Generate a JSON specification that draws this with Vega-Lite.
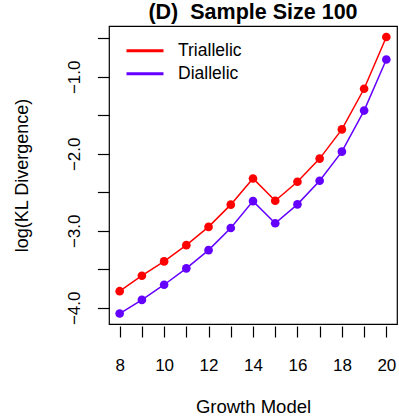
{
  "$schema": "https://vega.github.io/schema/vega-lite/v6.json",
  "width": 288,
  "height": 298,
  "autosize": {"type": "none"},
  "padding": {"left": 109, "top": 26, "right": 2, "bottom": 92},
  "background": "white",
  "config": {
    "font": "Liberation Sans",
    "view": {"stroke": "black", "strokeWidth": 1.2},
    "axis": {"grid": false, "domain": false, "tickColor": "black", "labelColor": "black", "titleColor": "black", "labelFont": "Liberation Sans", "titleFont": "Liberation Sans", "titleFontWeight": "normal", "tickWidth": 1.2}
  },
  "title": {"text": "(D)\u00a0 Sample Size 100", "fontSize": 21.5, "fontWeight": "bold", "font": "Liberation Sans", "anchor": "middle", "offset": 3, "color": "black"},
  "data": {"values": [
    {"growth": 8, "type": "Triallelic", "kl": -3.784},
    {"growth": 9, "type": "Triallelic", "kl": -3.583},
    {"growth": 10, "type": "Triallelic", "kl": -3.397},
    {"growth": 11, "type": "Triallelic", "kl": -3.186},
    {"growth": 12, "type": "Triallelic", "kl": -2.949},
    {"growth": 13, "type": "Triallelic", "kl": -2.660},
    {"growth": 14, "type": "Triallelic", "kl": -2.320},
    {"growth": 15, "type": "Triallelic", "kl": -2.609},
    {"growth": 16, "type": "Triallelic", "kl": -2.363},
    {"growth": 17, "type": "Triallelic", "kl": -2.062},
    {"growth": 18, "type": "Triallelic", "kl": -1.683},
    {"growth": 19, "type": "Triallelic", "kl": -1.155},
    {"growth": 20, "type": "Triallelic", "kl": -0.483},
    {"growth": 8, "type": "Diallelic", "kl": -4.074},
    {"growth": 9, "type": "Diallelic", "kl": -3.897},
    {"growth": 10, "type": "Diallelic", "kl": -3.700},
    {"growth": 11, "type": "Diallelic", "kl": -3.487},
    {"growth": 12, "type": "Diallelic", "kl": -3.251},
    {"growth": 13, "type": "Diallelic", "kl": -2.963},
    {"growth": 14, "type": "Diallelic", "kl": -2.614},
    {"growth": 15, "type": "Diallelic", "kl": -2.902},
    {"growth": 16, "type": "Diallelic", "kl": -2.656},
    {"growth": 17, "type": "Diallelic", "kl": -2.350},
    {"growth": 18, "type": "Diallelic", "kl": -1.972},
    {"growth": 19, "type": "Diallelic", "kl": -1.438},
    {"growth": 20, "type": "Diallelic", "kl": -0.775}
  ]},
  "encoding": {
    "x": {"field": "growth", "type": "quantitative",
      "scale": {"domain": [7.52, 20.48], "nice": false, "zero": false},
      "axis": {"values": [8,9,10,11,12,13,14,15,16,17,18,19,20], "labelExpr": "datum.value % 2 == 0 ? datum.label : ''",
        "tickSize": 11, "offset": 2, "labelFontSize": 17, "labelBaseline": "alphabetic", "labelPadding": 33, "labelFlush": false, "labelOverlap": false,
        "title": "Growth Model", "titleFontSize": 18.5, "titleBaseline": "alphabetic", "titleY": 86.5}},
    "y": {"field": "kl", "type": "quantitative",
      "scale": {"domain": [-4.21, -0.34], "nice": false, "zero": false},
      "axis": {"values": [-4,-3.5,-3,-2.5,-2,-1.5,-1,-0.5], "labelExpr": "datum.value % 1 == 0 ? format(datum.value, '.1f') : ''",
        "tickSize": 11.6, "labelFontSize": 17, "labelAngle": -90, "labelAlign": "center", "labelBaseline": "alphabetic", "labelPadding": 18.4, "labelFlush": false, "labelOverlap": false,
        "title": "log(KL Divergence)", "titleFontSize": 18, "titleBaseline": "alphabetic", "titleX": -82, "titleY": 149, "titleAngle": -90}},
    "color": {"field": "type", "type": "nominal",
      "scale": {"domain": ["Triallelic", "Diallelic"], "range": ["#FF0000", "#6400FF"]},
      "legend": {"title": null, "orient": "none", "legendX": 16, "legendY": 13.5, "symbolType": "stroke", "symbolStrokeWidth": 3, "symbolSize": 1369, "labelFontSize": 17.5, "labelOffset": 13, "clipHeight": 22.7, "rowPadding": 0, "padding": 0, "labelColor": "black"}}
  },
  "layer": [
    {"mark": {"type": "line", "strokeWidth": 1.5}},
    {"mark": {"type": "point", "filled": true, "opacity": 1, "size": 75}}
  ]
}
